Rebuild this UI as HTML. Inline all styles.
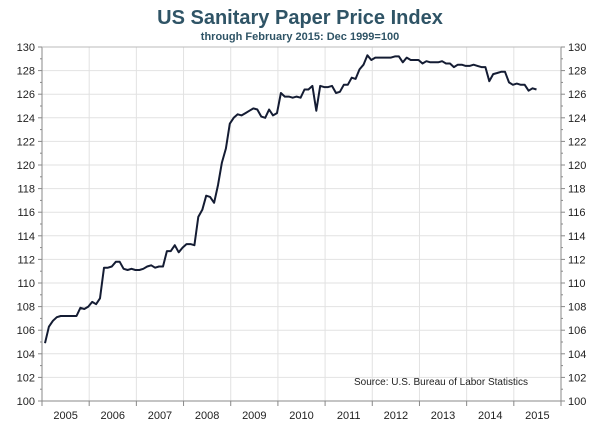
<!DOCTYPE html><html><head><style>body{margin:0;background:#fff;width:600px;height:428px;overflow:hidden;font-family:"Liberation Sans",sans-serif}</style></head><body>
<svg id="s" width="600" height="428" xmlns="http://www.w3.org/2000/svg">
<text x="300" y="24" text-anchor="middle" font-size="20" font-weight="bold" fill="#2f5466">US Sanitary Paper Price Index</text>
<text x="300" y="40" text-anchor="middle" font-size="11" font-weight="bold" fill="#2f5466">through February 2015: Dec 1999=100</text>
<g id="g"></g>
<text x="528" y="385" text-anchor="end" font-size="10" fill="#222">Source: U.S. Bureau of Labor Statistics</text>
</svg>
<script>
var L=42,R=561,T=47,B=401,g=document.getElementById('g'),h='';
function y(v){return B-(v-100)*(B-T)/30;}
for(var v=100;v<=130;v+=2){var yy=y(v);
if(v>100&&v<130)h+='<line x1="'+L+'" x2="'+R+'" y1="'+yy+'" y2="'+yy+'" stroke="#e2e2e2"/>';
h+='<text x="35" y="'+(yy+4)+'" text-anchor="end" font-size="11" fill="#222">'+v+'</text>';
h+='<text x="568" y="'+(yy+4)+'" font-size="11" fill="#222">'+v+'</text>';
h+='<line x1="'+(L-4)+'" x2="'+L+'" y1="'+yy+'" y2="'+yy+'" stroke="#888"/><line x1="'+R+'" x2="'+(R+4)+'" y1="'+yy+'" y2="'+yy+'" stroke="#888"/>';
if(v<130){var y2=y(v+1);h+='<line x1="'+(L-2)+'" x2="'+L+'" y1="'+y2+'" y2="'+y2+'" stroke="#888"/><line x1="'+R+'" x2="'+(R+2)+'" y1="'+y2+'" y2="'+y2+'" stroke="#888"/>';}}
var W=(R-L)/11;
for(var i=0;i<=11;i++){var xx=L+i*W;
if(i>0&&i<11)h+='<line x1="'+xx+'" x2="'+xx+'" y1="'+T+'" y2="'+B+'" stroke="#e2e2e2"/>';
h+='<line x1="'+xx+'" x2="'+xx+'" y1="'+B+'" y2="'+(B+5)+'" stroke="#888"/>';
if(i<11)h+='<text x="'+(xx+W/2)+'" y="419" text-anchor="middle" font-size="11" fill="#222">'+(2005+i)+'</text>';}
h+='<line x1="'+L+'" x2="'+L+'" y1="'+T+'" y2="'+B+'" stroke="#888"/><line x1="'+R+'" x2="'+R+'" y1="'+T+'" y2="'+B+'" stroke="#888"/><line x1="'+L+'" x2="'+R+'" y1="'+B+'" y2="'+B+'" stroke="#888"/><line x1="'+L+'" x2="'+R+'" y1="'+T+'" y2="'+T+'" stroke="#bbb"/>';
var d=[104.9,106.3,106.8,107.1,107.2,107.2,107.2,107.2,107.2,107.9,107.8,108.0,
108.4,108.2,108.7,111.3,111.3,111.4,111.8,111.8,111.2,111.1,111.2,111.1,
111.1,111.2,111.4,111.5,111.3,111.4,111.4,112.7,112.7,113.2,112.6,113.0,
113.3,113.3,113.2,115.6,116.2,117.4,117.3,116.8,118.3,120.2,121.4,123.5,
124.0,124.3,124.2,124.4,124.6,124.8,124.7,124.1,124.0,124.7,124.2,124.4,
126.1,125.8,125.8,125.7,125.8,125.7,126.4,126.4,126.7,124.6,126.7,126.6,
126.6,126.7,126.1,126.2,126.8,126.8,127.4,127.3,128.1,128.5,129.3,128.9,
129.1,129.1,129.1,129.1,129.1,129.2,129.2,128.7,129.1,128.9,128.9,128.9,
128.6,128.8,128.7,128.7,128.7,128.8,128.6,128.6,128.3,128.5,128.5,128.4,
128.4,128.5,128.4,128.3,128.3,127.1,127.7,127.8,127.9,127.9,127.0,126.8,
126.9,126.8,126.8,126.3,126.5,126.4];
var p=[];for(var k=0;k<d.length;k++)p.push((L+3+k*W/12).toFixed(1)+','+y(d[k]).toFixed(1));
h+='<polyline points="'+p.join(' ')+'" fill="none" stroke="#141c33" stroke-width="2" stroke-linejoin="round"/>';
g.innerHTML=h;
</script></body></html>
